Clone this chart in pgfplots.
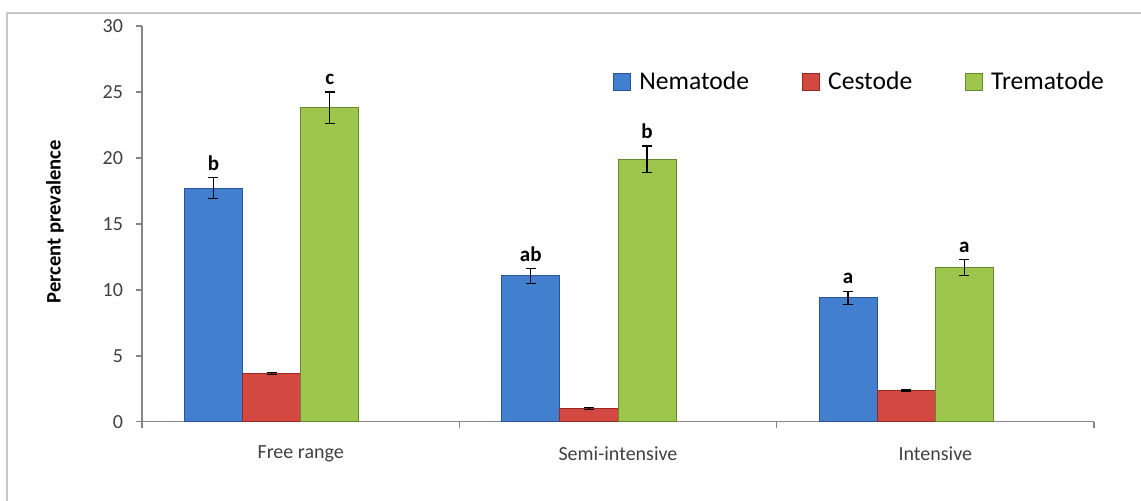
\documentclass[border=0pt]{standalone}
\usepackage{pgfplots}
\pgfplotsset{compat=1.18}
\usepackage{pgfplotstable}
\usepackage{fontspec}
\setmainfont{Carlito}
\definecolor{nemC}{RGB}{66,128,207}
\definecolor{nemD}{RGB}{40,85,150}
\definecolor{cesC}{RGB}{212,72,66}
\definecolor{cesD}{RGB}{150,40,38}
\definecolor{treC}{RGB}{158,198,76}
\definecolor{treD}{RGB}{100,138,45}
\definecolor{axgray}{RGB}{134,134,134}
\definecolor{framegray}{RGB}{200,200,200}

% x = bar centre (category 0,1,2 with the bar's offset in the group)
\pgfplotstableread{
x y e
-0.275 17.7 0.8
0.725 11.05 0.55
1.725 9.4 0.5
}\nematode
\pgfplotstableread{
x y e
-0.0915 3.65 0.1
0.9085 1.0 0.05
1.9085 2.4 0.07
}\cestode
\pgfplotstableread{
x y e
0.0915 23.8 1.2
1.0915 19.9 1.0
2.0915 11.7 0.6
}\trematode

\begin{document}
\begin{tikzpicture}
\path[use as bounding box] (-71pt,-39.65pt) rectangle (499.5pt,210.85pt);
\draw[framegray, line width=1pt] (-67.5pt,-39.65pt) -- (-67.5pt,204.35pt) -- (499.5pt,204.35pt);
\begin{axis}[
  at={(0,0)}, anchor=south west,
  width=476pt, height=197.85pt, scale only axis,
  xmin=-0.5, xmax=2.5, ymin=0, ymax=30,
  separate axis lines,
  axis x line=bottom, axis y line=left,
  axis line style={-, draw=axgray, line width=0.8pt},
  tick align=outside,
  major tick length=3pt,
  tick style={draw=axgray, line width=0.8pt},
  ytick={0,5,...,30},
  xtick={-0.5,0.5,1.5,2.5},
  xticklabels={,,,},
  extra x ticks={0,1,2},
  extra x tick labels={Free range,Semi-intensive,Intensive},
  extra x tick style={major tick length=0pt, xticklabel style={anchor=center, yshift=-16pt}},
  /pgf/number format/assume math mode=true,
  tick label style={font=\fontsize{10}{12}\selectfont, text=black!75},
  yticklabel style={anchor=east, xshift=-3pt},
  ylabel={\bfseries Percent prevalence},
  ylabel style={at={(axis description cs:-0.0914,0.505)}, anchor=center, font=\fontsize{10.3}{12}\selectfont},
  legend columns=3,
  legend style={at={(0.4947,0.8585)}, anchor=west, draw=none, fill=none,
    font=\fontsize{12.8}{15}\selectfont, inner sep=0pt,
    /tikz/every even column/.append style={column sep=24.5pt}},
  mybar/.style={ybar, bar width=0.183, bar shift=0pt,
    legend image code/.code={\draw[##1,/tikz/.cd] (0pt,-4.25pt) rectangle (8.5pt,4.25pt);}},
  myerr/.style={error bars/.cd, y dir=both, y explicit, error mark=-,
    error bar style={black, line width=0.6pt, solid},
    error mark options={black, rotate=90, mark size=2.5pt, line width=0.6pt}},
]
\addplot[mybar, fill=nemC, draw=nemD, line width=0.5pt, myerr] table[x=x, y=y, y error=e]{\nematode};
\addlegendentry{\hspace{2pt}Nematode}
\addplot[mybar, fill=cesC, draw=cesD, line width=0.5pt, myerr] table[x=x, y=y, y error=e]{\cestode};
\addlegendentry{\hspace{2pt}Cestode}
\addplot[mybar, fill=treC, draw=treD, line width=0.5pt, myerr] table[x=x, y=y, y error=e]{\trematode};
\addlegendentry{\hspace{2pt}Trematode}

\begin{scope}[every node/.style={font=\bfseries\fontsize{10.5}{12}\selectfont, anchor=south}]
\node at (axis cs:-0.275,18.5) {b};
\node at (axis cs:0.725,11.6) {ab};
\node at (axis cs:1.725,9.9) {a};
\node at (axis cs:0.0915,25.0) {c};
\node at (axis cs:1.0915,20.9) {b};
\node at (axis cs:2.0915,12.3) {a};
\end{scope}
\end{axis}
\end{tikzpicture}
\end{document}
